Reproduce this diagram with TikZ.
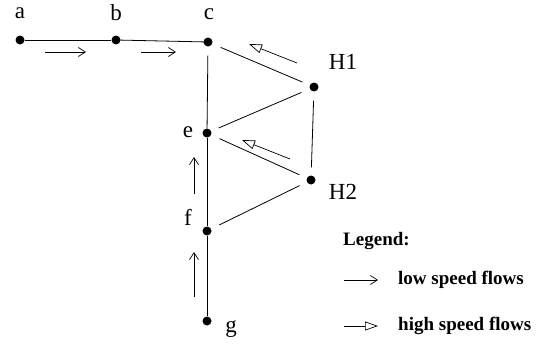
\documentclass[tikz,border=0pt]{standalone}
\usepackage{fontspec}
\setmainfont{Liberation Serif}
\usetikzlibrary{arrows.meta}
\begin{document}
\begin{tikzpicture}[x=1pt,y=-1pt,
  dot/.style={circle,fill=black,inner sep=0pt,minimum size=9pt},
  lbl/.style={font=\fontsize{23}{26}\selectfont,inner sep=0pt},
  leg/.style={font=\bfseries\fontsize{19}{22}\selectfont,inner sep=0pt,anchor=west},
  edge/.style={draw=black,line width=0.8pt},
  tri/.style={edge,shorten <=9pt,shorten >=8pt},
  low/.style={draw=black,line width=0.7pt,-{Straight Barb[length=7pt,width=9pt]}},
  high/.style={draw=black,line width=0.7pt,-{Triangle[open,length=13pt,width=9pt]}}]
\useasboundingbox (0,0) rectangle (545,348);
% nodes
\node[dot] (a) at (20,40) {};
\node[dot] (b) at (116,40) {};
\node[dot] (c) at (208,42) {};
\node[dot] (H1) at (314,87) {};
\node[dot] (e) at (207,133) {};
\node[dot] (H2) at (311,180) {};
\node[dot] (f) at (207,231) {};
\node[dot] (g) at (207,321) {};
% labels
\node[lbl] (la) at (20,13) {a};
\node[lbl] (lb) at (116,13) {b};
\node[lbl] (lc) at (209,14) {c};
\node[lbl] (lH1) at (343,62) {H1};
\node[lbl] (le) at (188,132) {e};
\node[lbl] (lf) at (188,217) {f};
\node[lbl] (lH2) at (343,192) {H2};
\node[lbl] (lg) at (231,329) {g};
% edges
\draw[edge] (a) -- (b);
\draw[edge] (b) -- (c.center);
\draw[edge,shorten <=9pt] (c) -- (e);
\draw[edge] (e) -- (f);
\draw[edge] (f) -- (g);
\draw[tri] (c) -- (H1);
\draw[tri] (H1) -- (e);
\draw[tri] (H1) -- (H2);
\draw[tri] (e) -- (H2);
\draw[tri] (f) -- (H2);
% flow arrows
\coordinate (s1) at (45,52); \coordinate (t1) at (86,52);
\coordinate (s2) at (141,52); \coordinate (t2) at (176,52);
\coordinate (s3) at (194,194); \coordinate (t3) at (194,157);
\coordinate (s4) at (194,297); \coordinate (t4) at (194,252);
\draw[low] (s1) -- (t1);
\draw[low] (s2) -- (t2);
\draw[low] (s3) -- (t3);
\draw[low] (s4) -- (t4);
\coordinate (s5) at (297,63); \coordinate (t5) at (249,44);
\coordinate (s6) at (290,159); \coordinate (t6) at (242,140);
\draw[high] (s5) -- (t5);
\draw[high] (s6) -- (t6);
% legend
\node[leg] (legt) at (343,241) {Legend:};
\coordinate (s7) at (344,280); \coordinate (t7) at (378,280);
\draw[low] (s7) -- (t7);
\node[leg] (lowt) at (398,280) {low speed flows};
\coordinate (s8) at (344,326); \coordinate (t8) at (378,326);
\draw[high] (s8) -- (t8);
\node[leg] (hight) at (398,326) {high speed flows};
\end{tikzpicture}
\end{document}
